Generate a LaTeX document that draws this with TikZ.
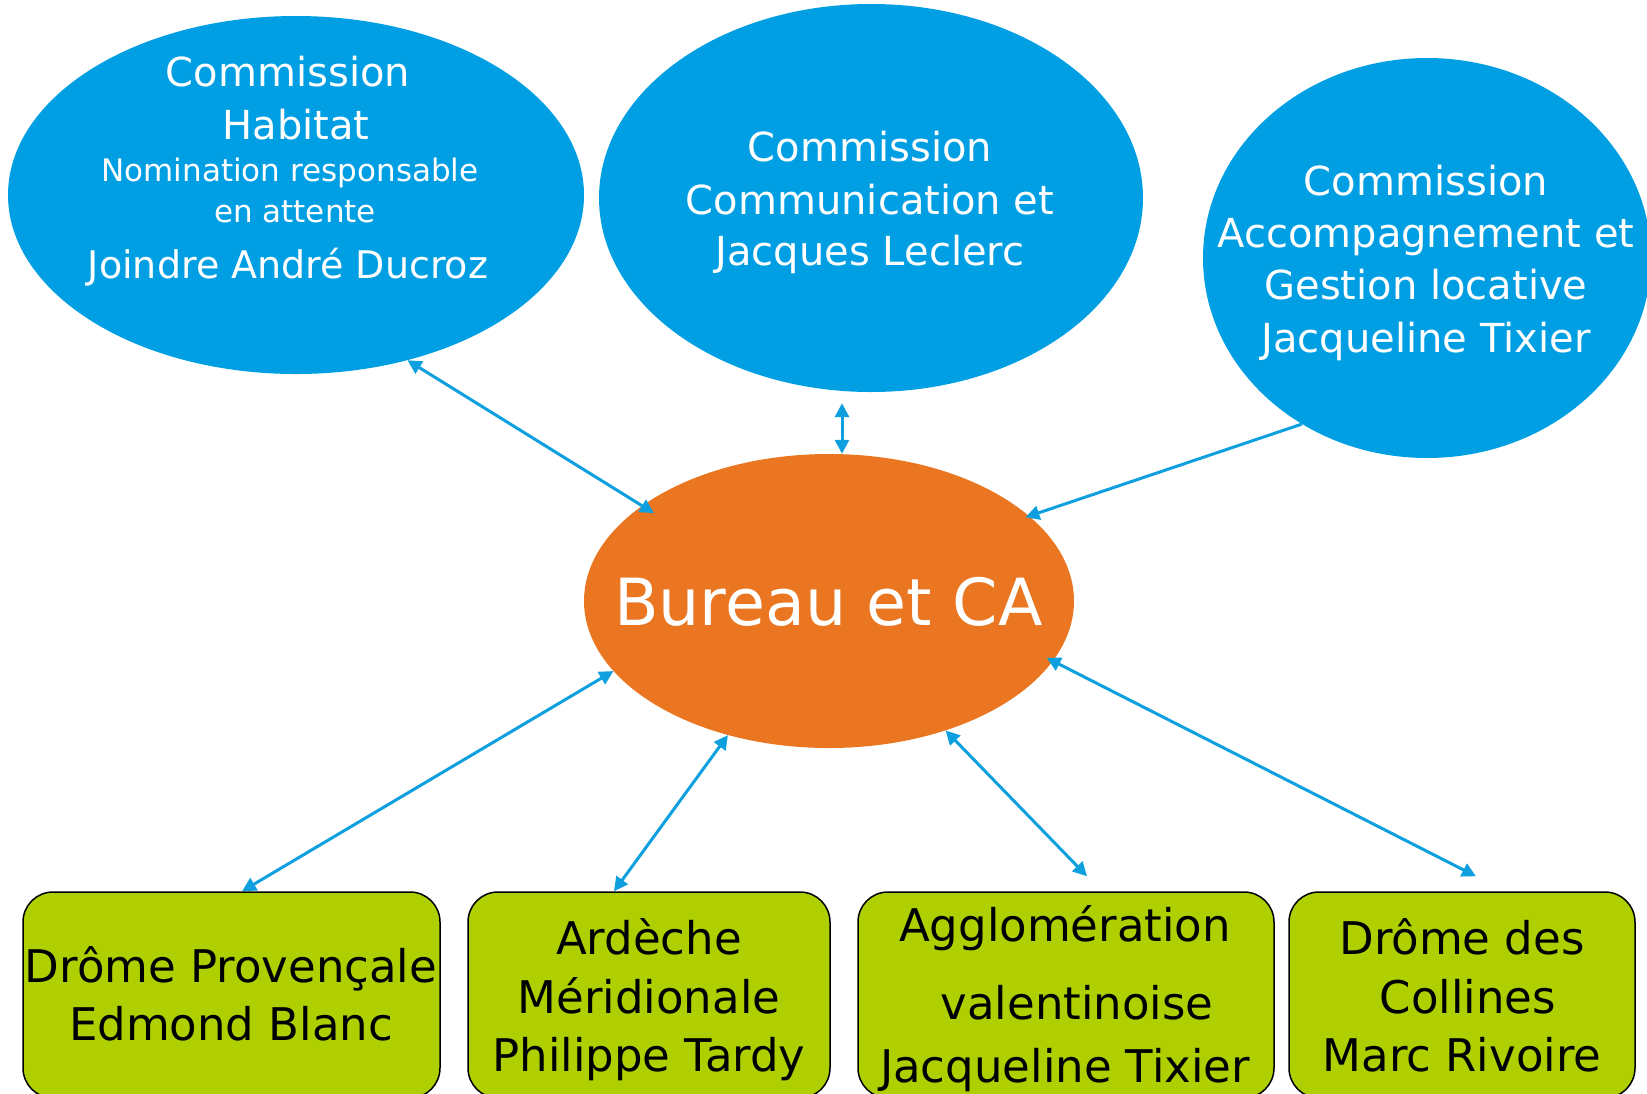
\documentclass[tikz,border=0pt]{standalone}
\usepackage{fontspec}
\setmainfont{DejaVu Sans}
\usetikzlibrary{shapes.geometric,arrows.meta}
\definecolor{cblue}{RGB}{0,159,227}
\definecolor{corange}{RGB}{234,118,33}
\definecolor{cgreen}{RGB}{175,207,0}
\definecolor{cline}{RGB}{14,160,222}
\newcommand{\fsMain}{\fontsize{40}{48}\selectfont}
\newcommand{\fsJoin}{\fontsize{38}{46}\selectfont}
\newcommand{\fsSmall}{\fontsize{31}{37}\selectfont}
\newcommand{\fsBox}{\fontsize{45}{54}\selectfont}
\newcommand{\fsBig}{\fontsize{65}{78}\selectfont}
\begin{document}
\begin{tikzpicture}[x=1pt,y=-1pt,
  commell/.style={ellipse, fill=cblue, inner sep=0pt},
  wt/.style={text=white, anchor=base, inner sep=0pt},
  bt/.style={text=black, anchor=base, inner sep=0pt},
  regionbox/.style={rectangle, rounded corners=30pt, draw=black, line width=1.5pt, fill=cgreen, minimum height=206pt, inner sep=0pt},
  tipA/.tip={Triangle[length=14pt,width=14pt]},
  linkboth/.style={draw=cline, line width=3pt, tipA-tipA},
  linkone/.style={draw=cline, line width=3pt, -tipA},
]
\useasboundingbox (0,0) rectangle (1647,1093);

% ellipses
\node[commell, minimum width=576pt, minimum height=358pt] (hab) at (296,195) {};
\node[commell, minimum width=544pt, minimum height=388pt] (com) at (871,198) {};
\node[commell, minimum width=448pt, minimum height=400pt] (acc) at (1427,258) {};
\node[ellipse, fill=corange, inner sep=0pt, minimum width=490pt, minimum height=294pt] (bur) at (829,601) {};

% boxes
\node[regionbox, minimum width=417pt] (b1) at (231.5,995) {};
\node[regionbox, minimum width=362pt] (b2) at (649,995) {};
\node[regionbox, minimum width=416pt] (b3) at (1066,995) {};
\node[regionbox, minimum width=346pt] (b4) at (1462,995) {};

% texts in ellipses
\node[wt, font=\fsMain] (h1) at (288,86) {Commission};
\node[wt, font=\fsMain] (h2) at (296,139) {Habitat};
\node[wt, font=\fsSmall] (h3) at (290,181) {Nomination responsable};
\node[wt, font=\fsSmall] (h4) at (295,222) {en attente};
\node[wt, font=\fsJoin] (h5) at (288,278) {Joindre André Ducroz};

\node[wt, font=\fsMain] (c1) at (870,161) {Commission};
\node[wt, font=\fsMain] (c2) at (870,214) {Communication et};
\node[wt, font=\fsMain] (c3) at (870,265) {Jacques Leclerc};

\node[wt, font=\fsMain] (a1) at (1426,195) {Commission};
\node[wt, font=\fsMain] (a2) at (1426,247) {Accompagnement et};
\node[wt, font=\fsMain] (a3) at (1426,299) {Gestion locative};
\node[wt, font=\fsMain] (a4) at (1426,352) {Jacqueline Tixier};

\node[wt, font=\fsBig] (bt1) at (828.5,625) {Bureau et CA};

% texts in boxes
\node[bt, font=\fsBox] (t11) at (231,982) {Drôme Provençale};
\node[bt, font=\fsBox] (t12) at (231,1040) {Edmond Blanc};

\node[bt, font=\fsBox] (t21) at (649,954) {Ardèche};
\node[bt, font=\fsBox] (t22) at (649,1013) {Méridionale};
\node[bt, font=\fsBox] (t23) at (649,1071) {Philippe Tardy};

\node[bt, font=\fsBox] (t31) at (1065,941) {Agglomération};
\node[bt, font=\fsBox] (t32) at (1077,1019) {valentinoise};
\node[bt, font=\fsBox] (t33) at (1065,1082) {Jacqueline Tixier};

\node[bt, font=\fsBox] (t41) at (1462,954) {Drôme des};
\node[bt, font=\fsBox] (t42) at (1468,1013) {Collines};
\node[bt, font=\fsBox] (t43) at (1462,1071) {Marc Rivoire};

% connectors
\draw[linkboth, shorten >=-14pt] (hab.-56) -- (bur.153);
\draw[linkboth] ([xshift=-29pt,yshift=-11pt]com.south) -- ([xshift=13pt]bur.north);
\draw[linkone, shorten >=-4pt] (acc.-127.3) -- (bur.23.5);
\draw[linkboth] (bur.198.8) -- ([xshift=10.5pt]b1.north);
\draw[linkboth] (bur.-127.7) -- ([xshift=-35pt]b2.north);
\draw[linkboth] (bur.-48.7) -- ([xshift=21pt,yshift=15pt]b3.north);
\draw[linkboth, shorten <=-7pt] (bur.-15) -- ([xshift=14pt,yshift=15pt]b4.north);
\end{tikzpicture}
\end{document}
